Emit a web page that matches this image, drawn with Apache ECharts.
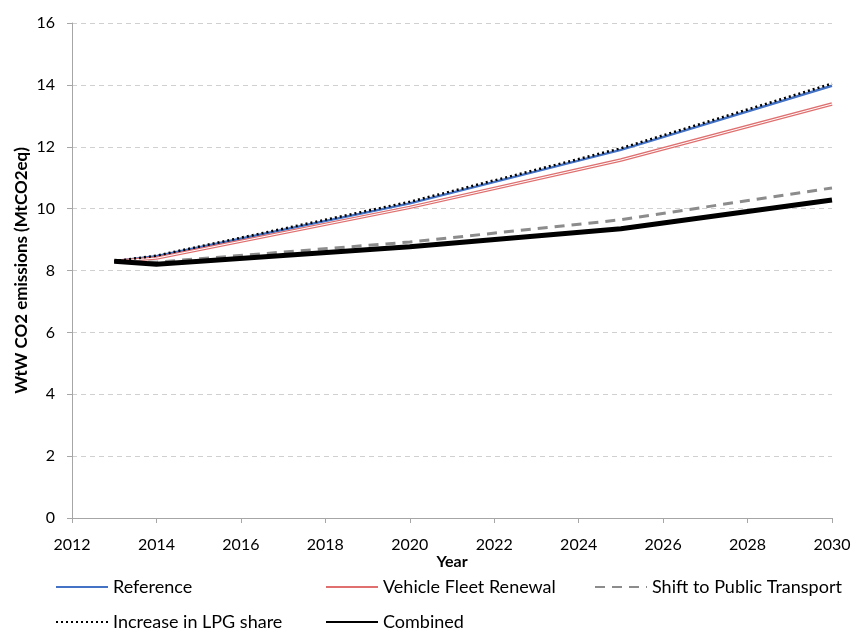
<!DOCTYPE html>
<html><head><meta charset="utf-8">
<script src="https://cdn.jsdelivr.net/npm/echarts@6/dist/echarts.min.js"></script>
<style>html,body{margin:0;padding:0;background:#fff}#c{width:856px;height:633px}</style>
</head><body><div id="c"></div>
<script>
const years = [2013, 2014, 2020, 2025, 2030];
const reference = [8.3, 8.46, 10.17, 11.9, 13.97];
const lpg = [8.3, 8.48, 10.22, 11.95, 14.04];
const fleet = [8.3, 8.4, 10.04, 11.57, 13.38];
const shift = [8.3, 8.27, 8.92, 9.64, 10.67];
const combined = [8.3, 8.2, 8.77, 9.35, 10.28];
const xTicks = [2012, 2030, 2];
const yTicks = [0, 16, 2];
const pairs = a => a.map((v, i) => [years[i], v]);
const font = 'Lato, "Open Sans", sans-serif';
const chart = echarts.init(document.getElementById('c'));
const legendBase = {itemWidth: 52, itemHeight: 10, textStyle: {fontFamily: font, fontSize: 18, color: '#000'},
  itemGap: 4, padding: 0, itemStyle: {opacity: 0}};
chart.setOption({
  animation: false,
  grid: {left: 72, right: 24, top: 23, bottom: 115},
  xAxis: {type: 'value', min: xTicks[0], max: xTicks[1], interval: xTicks[2],
    name: 'Year', nameLocation: 'middle', nameGap: 36, nameMoveOverlap: false,
    nameTextStyle: {fontFamily: font, fontSize: 16, fontWeight: 'bold', color: '#000'},
    axisLine: {lineStyle: {color: '#a6a6a6'}}, axisTick: {length: 5, lineStyle: {color: '#a6a6a6'}},
    axisLabel: {fontFamily: font, fontSize: 16, color: '#000', margin: 19, formatter: v => String(v)},
    splitLine: {show: false}},
  yAxis: {type: 'value', min: yTicks[0], max: yTicks[1], interval: yTicks[2],
    name: 'WtW CO2 emissions (MtCO2eq)', nameLocation: 'middle', nameGap: 42, nameMoveOverlap: false,
    nameTextStyle: {fontFamily: font, fontSize: 17, fontWeight: 'bold', color: '#000'},
    axisLine: {show: true, lineStyle: {color: '#a6a6a6'}}, axisTick: {show: true, length: 5, lineStyle: {color: '#a6a6a6'}},
    axisLabel: {fontFamily: font, fontSize: 16, color: '#000', margin: 17},
    splitLine: {lineStyle: {color: '#d0d0d0', type: [5, 4]}}},
  legend: [
    Object.assign({data: ['Reference'], left: 55, top: 578}, legendBase),
    Object.assign({data: ['Vehicle Fleet Renewal'], left: 325, top: 578}, legendBase),
    Object.assign({data: ['Shift to Public Transport'], left: 594, top: 578}, legendBase),
    Object.assign({data: ['Increase in LPG share'], left: 55, top: 613}, legendBase),
    Object.assign({data: ['Combined'], left: 325, top: 613}, legendBase)
  ],
  series: [
    {name: 'Reference', type: 'line', data: pairs(reference), symbol: 'none', z: 3,
      lineStyle: {color: '#4472C4', width: 2.5}, itemStyle: {color: '#4472C4'}},
    {name: 'Vehicle Fleet Renewal', type: 'line', data: pairs(fleet), symbol: 'none', z: 3,
      lineStyle: {color: '#E07070', width: 3.5}, itemStyle: {color: '#E07070'}},
    {name: 'fleetInner', type: 'line', data: pairs(fleet), symbol: 'none', silent: true, z: 4,
      lineStyle: {color: '#ffffff', width: 1}, itemStyle: {color: '#ffffff'}},
    {name: 'Shift to Public Transport', type: 'line', data: pairs(shift), symbol: 'none', z: 3,
      lineStyle: {color: '#8c8c8c', width: 3, type: [10, 7]}, itemStyle: {color: '#8c8c8c'}},
    {name: 'Combined', type: 'line', data: pairs(combined), symbol: 'none', z: 5,
      lineStyle: {color: '#000', width: 5}, itemStyle: {color: '#000'}},
    {name: 'Increase in LPG share', type: 'line', data: pairs(lpg), symbol: 'none', z: 6,
      lineStyle: {color: '#000', width: 2.5, type: [2, 3]}, itemStyle: {color: '#000'}}
  ]
});
</script></body></html>
